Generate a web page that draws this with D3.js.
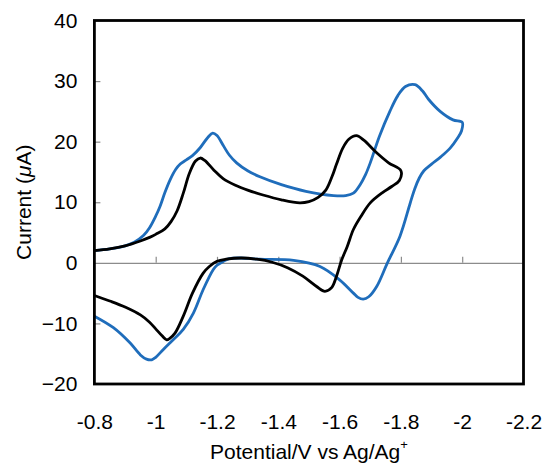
<!DOCTYPE html>
<html>
<head>
<meta charset="utf-8">
<script src="https://cdn.jsdelivr.net/npm/d3@7"></script>
<style>
  html, body { margin: 0; padding: 0; background: #fff; }
  svg { display: block; }
  text { font-family: "Liberation Sans", Arial, Helvetica, sans-serif; fill: #000; }
</style>
</head>
<body>
<svg id="chart" width="543" height="465"></svg>
<script>
// ---- Data (potential in V vs Ag/Ag+, current in µA) ----
const blackPotential = [-0.80,-0.85,-0.90,-0.95,-0.98,-1.00,-1.03,-1.05,-1.07,-1.09,-1.11,-1.13,-1.145,-1.16,-1.19,-1.22,-1.26,-1.30,-1.35,-1.41,-1.47,-1.50,-1.53,-1.555,-1.575,-1.59,-1.61,-1.63,-1.655,-1.68,-1.72,-1.76,-1.80,
  -1.795,-1.77,-1.74,-1.70,-1.67,-1.645,-1.625,-1.607,-1.59,-1.574,-1.552,-1.525,-1.48,-1.43,-1.38,-1.33,-1.28,-1.23,-1.20,-1.175,-1.155,-1.12,-1.09,-1.063,-1.045,-1.036,-1.02,-1.00,-0.98,-0.95,-0.90,-0.85,-0.80];
const blackCurrent = [2.0,2.3,2.8,3.6,4.2,4.7,5.6,6.8,8.6,11.5,14.8,16.8,17.3,16.9,15.3,13.9,12.8,12.0,11.2,10.4,9.9,10.1,10.8,12.0,14.2,16.3,18.9,20.4,21.0,20.2,18.2,16.5,15.2,
  13.6,12.6,11.6,9.9,7.7,5.5,2.7,0.5,-2.2,-4.1,-4.7,-3.9,-2.2,-0.8,0.1,0.6,0.8,0.6,0.25,-0.6,-1.7,-5.0,-8.8,-11.6,-12.5,-12.7,-12.0,-10.9,-9.8,-8.6,-7.3,-6.3,-5.4];

const bluePotential = [-0.80,-0.85,-0.90,-0.93,-0.96,-0.98,-1.00,-1.014,-1.03,-1.047,-1.065,-1.08,-1.10,-1.12,-1.145,-1.17,-1.186,-1.20,-1.22,-1.24,-1.264,-1.30,-1.34,-1.41,-1.49,-1.58,-1.62,-1.645,-1.667,-1.685,-1.70,-1.73,-1.764,-1.79,-1.815,-1.846,-1.87,-1.89,-1.928,-1.97,-2.00,
  -1.998,-1.985,-1.96,-1.93,-1.90,-1.875,-1.86,-1.845,-1.83,-1.797,-1.756,-1.721,-1.695,-1.677,-1.66,-1.645,-1.60,-1.536,-1.45,-1.34,-1.275,-1.24,-1.221,-1.20,-1.188,-1.155,-1.123,-1.09,-1.057,-1.025,-1.00,-0.987,-0.97,-0.95,-0.916,-0.862,-0.80];
const blueCurrent = [2.0,2.3,2.8,3.4,4.5,5.8,7.7,9.3,11.6,13.7,15.4,16.3,17.0,17.7,19.0,20.7,21.4,21.0,19.4,17.8,16.5,15.2,14.2,12.9,11.8,11.1,11.1,11.5,12.9,14.6,16.5,20.9,25.0,27.6,29.1,29.4,28.4,27.0,25.0,23.6,23.2,
  21.8,20.6,18.9,17.5,16.3,15.2,14.0,12.2,9.8,4.4,0,-3.9,-5.6,-6.0,-5.7,-5.0,-2.8,-0.6,0.4,0.6,0.8,0.7,0.25,-0.4,-1.1,-4.4,-8.3,-11.0,-12.7,-14.3,-15.6,-16.0,-15.9,-15.2,-13.2,-10.7,-8.8];

const xTicks = [-0.8,-1,-1.2,-1.4,-1.6,-1.8,-2,-2.2];
const yTicks = [-20,-10,0,10,20,30,40];

// ---- Layout ----
const svg = d3.select("#chart");
const plotL = 94.4, plotT = 20.5, plotR = 523.5, plotB = 384;

const x = d3.scaleLinear().domain([-0.8, -2.2]).range([plotL, plotR]);
const y = d3.scaleLinear().domain([-20, 40]).range([plotB, plotT]);

// Horizontal zero axis with upward ticks (no labels)
const zeroAxis = svg.append("g")
  .attr("transform", `translate(0,${y(0)})`)
  .call(d3.axisTop(x).tickValues(xTicks.slice(1, -1)).tickSize(6).tickSizeOuter(0).tickFormat(""));
zeroAxis.select(".domain").attr("stroke", "#8c8c8c").attr("stroke-width", 1.2);
zeroAxis.selectAll(".tick line").attr("stroke", "#8c8c8c").attr("stroke-width", 1.2);

// Left axis inner ticks
const yAxisTicks = svg.append("g")
  .attr("transform", `translate(${plotL},0)`)
  .call(d3.axisRight(y).tickValues(yTicks.filter(v => v !== 0 && v !== 40 && v !== -20)).tickSize(6).tickFormat(""));
yAxisTicks.select(".domain").remove();
yAxisTicks.selectAll(".tick line").attr("stroke", "#8c8c8c").attr("stroke-width", 1.2);

// Tick labels
const yLabels = svg.append("g")
  .attr("transform", `translate(${plotL},0)`)
  .call(d3.axisLeft(y).tickValues(yTicks).tickSize(0).tickPadding(17).tickFormat(d3.format("d")));
yLabels.select(".domain").remove();
yLabels.selectAll("text").attr("font-size", 21).attr("font-family", "Liberation Sans, Arial, sans-serif").attr("fill", "#000");

const xLabels = svg.append("g")
  .attr("transform", `translate(0,${plotB})`)
  .call(d3.axisBottom(x).tickValues(xTicks).tickSize(0).tickPadding(30).tickFormat(d => String(d)));
xLabels.select(".domain").remove();
xLabels.selectAll("text").attr("font-size", 21).attr("font-family", "Liberation Sans, Arial, sans-serif").attr("fill", "#000");

// Curves
const line = d3.line().x(d => x(d[0])).y(d => y(d[1])).curve(d3.curveCatmullRom.alpha(0.5));
const blackData = d3.zip(blackPotential, blackCurrent);
const blueData = d3.zip(bluePotential, blueCurrent);

svg.append("path").attr("d", line(blueData)).attr("fill", "none")
  .attr("stroke", "#1f6dbb").attr("stroke-width", 2.8).attr("stroke-linejoin", "round");
svg.append("path").attr("d", line(blackData)).attr("fill", "none")
  .attr("stroke", "#000").attr("stroke-width", 2.8).attr("stroke-linejoin", "round");

// Frame
svg.append("rect").attr("x", plotL).attr("y", plotT).attr("width", plotR - plotL).attr("height", plotB - plotT)
  .attr("fill", "none").attr("stroke", "#000").attr("stroke-width", 2.8);

// Axis titles
const xt = svg.append("text").attr("x", (plotL + plotR) / 2).attr("y", 459)
  .attr("text-anchor", "middle").attr("font-size", 21);
xt.append("tspan").text("Potential/V vs Ag/Ag");
xt.append("tspan").text("+").attr("font-size", 13).attr("dy", -10);

const yt = svg.append("text").attr("transform", `translate(31,${(plotT + plotB) / 2}) rotate(-90)`)
  .attr("text-anchor", "middle").attr("font-size", 21);
yt.append("tspan").text("Current (");
yt.append("tspan").text("μ").attr("font-style", "italic");
yt.append("tspan").text("A)");
</script>
</body>
</html>
